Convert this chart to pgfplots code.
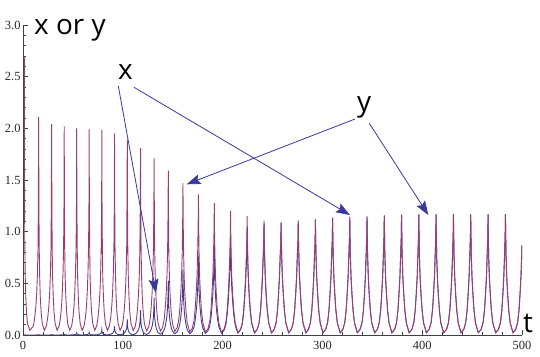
\documentclass[border=0pt]{standalone}
\usepackage{pgfplots}
\pgfplotsset{compat=1.18}
\usepackage{pgfplotstable}
\usepackage{fontspec}
\setmainfont{Liberation Serif}
\newfontfamily\labfont{Open Sans}
\usetikzlibrary{arrows.meta}
\definecolor{mmablue}{rgb}{0.24,0.24,0.6}
\definecolor{mmapurple}{rgb}{0.6,0.24,0.442}
\definecolor{arrowblue}{rgb}{0.22,0.22,0.62}
\pgfplotstableread{
t y x
1.3 2.70 0.003
1.5 1.45 0.002
1.8 0.90 0.001
2.2 0.58 0.001
2.8 0.37 0
3.5 0.22 0
4.5 0.11 0
7.0 0.045 0
10.5 0.09 0
11.9 0.18 0
13.0 0.29 0
13.8 0.42 0.001
14.5 0.60 0.001
15.1 0.86 0.001
15.4 1.37 0.001
15.7 2.11 0.002
15.9 1.37 0.001
16.2 0.87 0.001
16.7 0.57 0.001
17.3 0.37 0
18.2 0.22 0
19.3 0.11 0
21.4 0.045 0
23.5 0.09 0
24.9 0.18 0
26.0 0.29 0
26.8 0.42 0.001
27.5 0.60 0.001
28.1 0.86 0.001
28.4 1.33 0.002
28.7 2.04 0.003
28.9 1.33 0.002
29.2 0.87 0.001
29.6 0.57 0.001
30.3 0.37 0.001
31.1 0.22 0
32.2 0.11 0
34.2 0.045 0
36.3 0.09 0
37.7 0.18 0.001
38.7 0.29 0.001
39.4 0.42 0.001
40.1 0.60 0.002
40.7 0.86 0.003
41.1 1.31 0.004
41.3 2.02 0.006
41.5 1.31 0.004
41.8 0.87 0.003
42.2 0.57 0.002
42.9 0.37 0.001
43.7 0.22 0.001
44.8 0.11 0
46.8 0.045 0
48.8 0.09 0.001
50.2 0.18 0.002
51.2 0.29 0.003
51.9 0.42 0.004
52.6 0.60 0.006
53.2 0.86 0.009
53.6 1.30 0.013
53.8 2.00 0.020
54.0 1.30 0.013
54.3 0.87 0.009
54.7 0.57 0.006
55.4 0.37 0.004
56.2 0.22 0.002
57.3 0.11 0.001
59.3 0.045 0
61.3 0.09 0.001
62.7 0.18 0.002
63.7 0.29 0.004
64.4 0.42 0.005
65.1 0.60 0.008
65.7 0.86 0.011
66.1 1.29 0.016
66.3 1.99 0.025
66.5 1.29 0.016
66.8 0.87 0.011
67.2 0.57 0.007
67.9 0.37 0.005
68.7 0.22 0.003
69.9 0.11 0.001
71.9 0.045 0.001
73.9 0.09 0.002
75.3 0.18 0.005
76.3 0.29 0.007
77.1 0.42 0.011
77.8 0.60 0.015
78.4 0.86 0.022
78.8 1.29 0.032
79.0 1.985 0.050
79.2 1.29 0.032
79.5 0.87 0.022
79.9 0.57 0.014
80.6 0.37 0.009
81.4 0.22 0.006
82.6 0.11 0.003
84.6 0.045 0.001
86.6 0.088 0.004
88.0 0.177 0.008
89.0 0.288 0.013
89.8 0.419 0.018
90.5 0.599 0.026
91.1 0.856 0.038
91.5 1.284 0.056
91.7 1.95 0.086
91.9 1.285 0.057
92.2 0.865 0.038
92.7 0.57 0.025
93.3 0.372 0.016
94.1 0.221 0.010
95.3 0.11 0.005
97.3 0.044 0.002
99.4 0.087 0.007
100.8 0.174 0.014
101.8 0.285 0.023
102.6 0.417 0.033
103.3 0.597 0.047
103.9 0.851 0.067
104.2 1.267 0.100
104.5 1.90 0.150
104.7 1.27 0.100
105.0 0.86 0.068
105.5 0.569 0.045
106.2 0.373 0.029
107.0 0.222 0.018
108.2 0.111 0.009
110.4 0.043 0.003
112.5 0.083 0.011
113.9 0.168 0.022
115.0 0.28 0.037
115.8 0.414 0.055
116.6 0.594 0.079
117.1 0.842 0.112
117.5 1.238 0.165
117.8 1.81 0.240
118.0 1.24 0.165
118.3 0.85 0.113
118.8 0.568 0.076
119.5 0.376 0.050
120.4 0.224 0.030
121.6 0.111 0.015
123.8 0.040 0.005
126.0 0.08 0.017
127.5 0.162 0.034
128.5 0.275 0.058
129.4 0.411 0.086
130.1 0.591 0.124
130.7 0.833 0.175
131.1 1.199 0.252
131.4 1.71 0.360
131.6 1.20 0.252
131.9 0.84 0.176
132.5 0.567 0.119
133.2 0.379 0.080
134.1 0.226 0.047
135.4 0.112 0.024
137.7 0.038 0.008
139.9 0.074 0.024
141.5 0.153 0.050
142.6 0.268 0.088
143.5 0.407 0.134
144.3 0.587 0.194
144.9 0.82 0.271
145.3 1.155 0.381
145.6 1.59 0.525
145.8 1.16 0.383
146.1 0.825 0.272
146.7 0.565 0.186
147.4 0.384 0.127
148.4 0.229 0.076
149.7 0.112 0.037
152.1 0.035 0.012
154.4 0.069 0.030
156.0 0.144 0.063
157.2 0.26 0.113
158.1 0.402 0.175
158.9 0.582 0.253
159.6 0.806 0.351
160.0 1.105 0.481
160.3 1.47 0.640
160.5 1.11 0.483
160.9 0.81 0.352
161.5 0.564 0.245
162.2 0.388 0.169
163.3 0.232 0.101
164.6 0.113 0.049
167.1 0.031 0.013
169.6 0.064 0.036
171.3 0.135 0.076
172.5 0.253 0.142
173.5 0.398 0.223
174.4 0.578 0.324
175.0 0.793 0.444
175.5 1.057 0.592
175.8 1.36 0.760
176.0 1.07 0.599
176.4 0.795 0.445
177.0 0.562 0.315
177.8 0.392 0.220
178.8 0.235 0.132
180.3 0.114 0.064
182.8 0.028 0.016
185.3 0.06 0.041
187.1 0.129 0.087
188.4 0.248 0.167
189.3 0.395 0.267
190.2 0.575 0.388
190.9 0.784 0.529
191.4 1.013 0.684
191.7 1.275 0.860
191.9 1.02 0.689
192.3 0.785 0.530
192.9 0.561 0.379
193.7 0.395 0.267
194.8 0.237 0.160
196.3 0.114 0.077
198.9 0.025 0.017
201.5 0.057 0.046
203.3 0.124 0.099
204.6 0.244 0.195
205.6 0.392 0.314
206.5 0.572 0.458
207.2 0.776 0.621
207.7 0.97 0.776
208.0 1.20 0.960
208.2 0.98 0.784
208.6 0.777 0.622
209.2 0.561 0.449
210.1 0.398 0.318
211.2 0.239 0.191
212.7 0.115 0.092
215.3 0.024 0.019
218.0 0.055 0.050
219.8 0.12 0.108
221.1 0.24 0.216
222.1 0.39 0.351
223.1 0.57 0.513
223.8 0.77 0.693
224.3 0.943 0.849
224.6 1.15 1.040
224.9 0.955 0.860
225.2 0.77 0.693
225.9 0.56 0.504
226.7 0.40 0.360
227.8 0.24 0.216
229.3 0.115 0.104
232.0 0.022 0.020
234.7 0.055 0.053
236.6 0.12 0.116
238.0 0.24 0.233
239.0 0.39 0.378
239.9 0.57 0.553
240.7 0.77 0.747
241.2 0.91 0.883
241.5 1.11 1.080
241.8 0.92 0.892
242.1 0.77 0.747
242.8 0.56 0.543
243.6 0.40 0.388
244.8 0.24 0.233
246.3 0.115 0.112
249.0 0.022 0.021
251.8 0.055 0.055
253.6 0.12 0.119
255.0 0.24 0.239
256.0 0.39 0.388
257.0 0.57 0.567
257.7 0.77 0.766
258.3 0.894 0.890
258.6 1.09 1.085
258.9 0.905 0.905
259.2 0.77 0.77
259.9 0.56 0.56
260.8 0.40 0.40
261.9 0.24 0.24
263.4 0.115 0.115
266.2 0.022 0.022
268.9 0.055 0.055
270.8 0.12 0.12
272.2 0.24 0.24
273.2 0.39 0.39
274.2 0.57 0.57
274.9 0.77 0.77
275.5 0.902 0.902
275.8 1.10 1.11
276.1 0.91 0.91
276.4 0.77 0.77
277.1 0.56 0.56
278.0 0.40 0.40
279.1 0.24 0.24
280.6 0.115 0.115
283.4 0.022 0.022
286.1 0.055 0.055
288.0 0.12 0.12
289.4 0.24 0.24
290.4 0.39 0.39
291.4 0.57 0.57
292.1 0.77 0.77
292.7 0.91 0.91
293.0 1.11 1.12
293.3 0.92 0.92
293.6 0.77 0.77
294.3 0.56 0.56
295.2 0.40 0.40
296.3 0.24 0.24
297.8 0.115 0.115
300.6 0.022 0.022
303.3 0.055 0.055
305.2 0.12 0.12
306.6 0.24 0.24
307.6 0.39 0.39
308.6 0.57 0.57
309.3 0.77 0.77
309.9 0.923 0.923
310.2 1.125 1.135
310.5 0.935 0.935
310.8 0.77 0.77
311.5 0.56 0.56
312.4 0.40 0.40
313.5 0.24 0.24
315.0 0.115 0.115
317.8 0.022 0.022
320.5 0.055 0.055
322.4 0.12 0.12
323.8 0.24 0.24
324.8 0.39 0.39
325.8 0.57 0.57
326.5 0.77 0.77
327.1 0.931 0.931
327.4 1.135 1.145
327.7 0.94 0.94
328.0 0.77 0.77
328.7 0.56 0.56
329.6 0.40 0.40
330.7 0.24 0.24
332.2 0.115 0.115
335.0 0.022 0.022
337.8 0.055 0.055
339.7 0.12 0.12
341.1 0.24 0.24
342.1 0.39 0.39
343.1 0.57 0.57
343.8 0.77 0.77
344.4 0.935 0.935
344.7 1.14 1.15
345.0 0.945 0.945
345.3 0.77 0.77
346.0 0.56 0.56
346.9 0.40 0.40
348.0 0.24 0.24
349.5 0.115 0.115
352.3 0.022 0.022
355.1 0.055 0.055
357.0 0.12 0.12
358.4 0.24 0.24
359.4 0.39 0.39
360.4 0.57 0.57
361.1 0.77 0.77
361.7 0.943 0.943
362.0 1.15 1.16
362.3 0.955 0.955
362.6 0.77 0.77
363.3 0.56 0.56
364.2 0.40 0.40
365.3 0.24 0.24
366.8 0.115 0.115
369.6 0.022 0.022
372.4 0.055 0.055
374.3 0.12 0.12
375.7 0.24 0.24
376.7 0.39 0.39
377.7 0.57 0.57
378.4 0.77 0.77
379.0 0.947 0.947
379.3 1.155 1.165
379.6 0.96 0.96
379.9 0.77 0.77
380.6 0.56 0.56
381.5 0.40 0.40
382.6 0.24 0.24
384.1 0.115 0.115
386.9 0.022 0.022
389.7 0.055 0.055
391.6 0.12 0.12
393.0 0.24 0.24
394.0 0.39 0.39
395.0 0.57 0.57
395.7 0.77 0.77
396.3 0.951 0.951
396.6 1.16 1.17
396.9 0.963 0.963
397.2 0.77 0.77
397.9 0.56 0.56
398.8 0.40 0.40
399.9 0.24 0.24
401.4 0.115 0.115
404.2 0.022 0.022
407.0 0.055 0.055
408.9 0.12 0.12
410.3 0.24 0.24
411.3 0.39 0.39
412.3 0.57 0.57
413.0 0.77 0.77
413.6 0.951 0.951
413.9 1.16 1.17
414.2 0.963 0.963
414.5 0.77 0.77
415.2 0.56 0.56
416.1 0.40 0.40
417.2 0.24 0.24
418.7 0.115 0.115
421.5 0.022 0.022
424.4 0.055 0.055
426.3 0.12 0.12
427.7 0.24 0.24
428.7 0.39 0.39
429.7 0.57 0.57
430.4 0.77 0.77
431.0 0.951 0.951
431.3 1.16 1.17
431.6 0.963 0.963
431.9 0.77 0.77
432.6 0.56 0.56
433.5 0.40 0.40
434.6 0.24 0.24
436.1 0.115 0.115
438.9 0.022 0.022
441.7 0.055 0.055
443.6 0.12 0.12
445.0 0.24 0.24
446.0 0.39 0.39
447.0 0.57 0.57
447.7 0.77 0.77
448.3 0.951 0.951
448.6 1.16 1.17
448.9 0.963 0.963
449.2 0.77 0.77
449.9 0.56 0.56
450.8 0.40 0.40
451.9 0.24 0.24
453.4 0.115 0.115
456.2 0.022 0.022
459.1 0.055 0.055
461.0 0.12 0.12
462.4 0.24 0.24
463.4 0.39 0.39
464.4 0.57 0.57
465.1 0.77 0.77
465.7 0.951 0.951
466.0 1.16 1.17
466.3 0.963 0.963
466.6 0.77 0.77
467.3 0.56 0.56
468.2 0.40 0.40
469.3 0.24 0.24
470.8 0.115 0.115
473.6 0.022 0.022
476.5 0.055 0.055
478.4 0.12 0.12
479.8 0.24 0.24
480.8 0.39 0.39
481.8 0.57 0.57
482.5 0.77 0.77
483.1 0.951 0.951
483.4 1.16 1.17
483.7 0.963 0.963
484.0 0.77 0.77
484.7 0.56 0.56
485.6 0.40 0.40
486.7 0.24 0.24
488.2 0.115 0.115
491.0 0.022 0.022
493.7 0.055 0.055
495.6 0.12 0.12
497.0 0.24 0.24
498.0 0.39 0.39
499.0 0.57 0.57
499.7 0.77 0.77
500.0 0.87 0.87
}\data

\begin{document}
\begin{tikzpicture}
\begin{axis}[
  at={(23bp,22bp)}, anchor=south west,
  scale only axis, width=499bp, height=310bp,
  xmin=0, xmax=500, ymin=0, ymax=3,
  axis lines=left,
  axis line style={-, line width=0.6bp, black!75},
  tick align=inside,
  xtick={0,100,200,300,400,500}, minor x tick num=4,
  ytick={0,0.5,1,1.5,2,2.5,3}, minor y tick num=4,
  major tick length=4.5bp, minor tick length=2.5bp,
  tick style={black!75, line width=0.5bp},
  /pgf/number format/assume math mode=true,
  y tick label style={/pgf/number format/fixed, /pgf/number format/fixed zerofill, /pgf/number format/precision=1, xshift=1bp},
  x tick label style={/pgf/number format/fixed, /pgf/number format/precision=0, yshift=-3bp},
  ticklabel style={font=\fontsize{12.5}{13}\selectfont, text=black!85},
]
\addplot[mmablue, line width=0.9bp] table[x=t, y=x] {\data};
\addplot[mmapurple, line width=0.9bp] table[x=t, y=y] {\data};
\end{axis}
\tikzset{lab/.style={anchor=base west, inner sep=0pt, font=\labfont\fontsize{28}{30}\selectfont}}
\node[lab] at (34bp,322bp) {x or y};
\node[lab] at (118bp,277bp) {x};
\node[lab] at (357bp,245.5bp) {y};
\node[lab] at (523bp,25bp) {t};
\tikzset{arr/.style={arrowblue, line width=0.8bp, -{Stealth[length=14bp, width=10bp, inset=2.5bp]}}}
\draw[arr] (118.3bp,271bp) -- (156bp,64bp);
\draw[arr] (134bp,269.7bp) -- (350bp,142bp);
\draw[arr] (355bp,238bp) -- (186.7bp,172.7bp);
\draw[arr] (369.3bp,233.7bp) -- (428.3bp,142bp);
\pgfresetboundingbox
\path (0bp,0bp) rectangle (540bp,357bp);
\end{tikzpicture}
\end{document}
